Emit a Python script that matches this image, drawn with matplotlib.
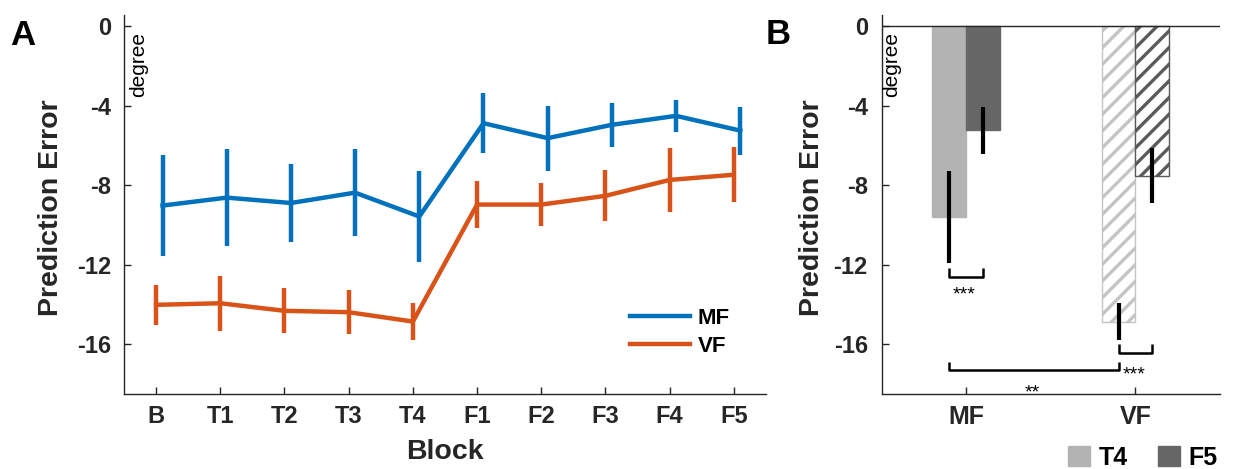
import matplotlib
matplotlib.use("Agg")
import matplotlib.pyplot as plt
import numpy as np

plt.rcParams['font.family'] = ['Liberation Sans', 'DejaVu Sans']
plt.rcParams['hatch.linewidth'] = 2.4

# panel A data
blocks = ["B", "T1", "T2", "T3", "T4", "F1", "F2", "F3", "F4", "F5"]
mf_mean = [-9.03, -8.63, -8.90, -8.38, -9.58, -4.89, -5.64, -4.97, -4.52, -5.26]
mf_err = [2.55, 2.43, 1.95, 2.20, 2.30, 1.52, 1.63, 1.11, 0.82, 1.21]
vf_mean = [-14.02, -13.94, -14.32, -14.39, -14.86, -8.98, -8.98, -8.54, -7.74, -7.48]
vf_err = [1.00, 1.39, 1.14, 1.11, 0.92, 1.19, 1.09, 1.28, 1.59, 1.38]

# panel B data (T4 and F5 blocks)
groups = ["MF", "VF"]
t4_mean = [-9.60, -14.87]
t4_err = [2.30, 0.92]
f5_mean = [-5.25, -7.52]
f5_err = [1.20, 1.37]

blue = "#0072BD"
orange = "#D95319"
axcol = "#262626"

fig = plt.figure(figsize=(12.34, 4.69), dpi=100)
axA = fig.add_axes([0.1005, 0.160, 0.5202, 0.808])
axB = fig.add_axes([0.7145, 0.160, 0.2742, 0.808])


def style(ax):
    for s in ["top", "right"]:
        ax.spines[s].set_visible(False)
    for s in ["left", "bottom"]:
        ax.spines[s].set_color(axcol)
        ax.spines[s].set_linewidth(1.0)
    ax.tick_params(direction="in", length=5, width=1, color=axcol,
                   labelcolor=axcol, labelsize=17)
    ax.tick_params(axis="y", pad=9)
    ax.tick_params(axis="x", pad=8)
    ax.set_ylim(-18.5, 0.55)
    ax.set_yticks([0, -4, -8, -12, -16])
    ax.set_yticklabels(["0", "-4", "-8", "-12", "-16"], fontweight="bold")


# ---- panel A
x = np.arange(1, len(blocks) + 1)
axA.errorbar(x + 0.1, mf_mean, yerr=mf_err, color=blue, lw=3.2, elinewidth=3.2,
             capsize=0, label="MF")
axA.errorbar(x, vf_mean, yerr=vf_err, color=orange, lw=3.2, elinewidth=3.2,
             capsize=0, label="VF")
axA.set_xlim(0.5, 10.5)
axA.set_xticks(x)
axA.set_xticklabels(blocks, fontweight="bold")
style(axA)
axA.set_xlabel("Block", fontsize=20.5, fontweight="bold", color=axcol, va="center")
axA.xaxis.set_label_coords(0.5, -0.153)
axA.set_ylabel("Prediction Error", fontsize=20.5, fontweight="bold", color=axcol, va="center")
axA.yaxis.set_label_coords(-0.114, 0.492)
axA.text(0.023, 0.956, "degree", transform=axA.transAxes, rotation=90,
         ha="center", va="top", fontsize=15)
h, l = axA.get_legend_handles_labels()
axA.legend([hh[0] for hh in h], l, frameon=False, loc="center left",
           bbox_to_anchor=(0.788, 0.162), borderaxespad=0, borderpad=0,
           handlelength=2.7, handletextpad=0.35, labelspacing=0.3,
           prop={"size": 16, "weight": "bold"})

# ---- panel B
xb = np.arange(1, len(groups) + 1)
light = "#b3b3b3"
dark = "#666666"
axB.bar(xb[0] - 0.1, t4_mean[0], 0.2, color=light, edgecolor=light, label="T4")
axB.bar(xb[0] + 0.1, f5_mean[0], 0.2, color=dark, edgecolor=dark, label="F5")
axB.bar(xb[1] - 0.1, t4_mean[1], 0.2, color="white", edgecolor="#c4c4c4", hatch="//", lw=1)
axB.bar(xb[1] + 0.1, f5_mean[1], 0.2, color="white", edgecolor="#5a5a5a", hatch="//", lw=1)
axB.errorbar(xb - 0.1, t4_mean, yerr=t4_err, fmt="none", ecolor="black", elinewidth=3, capsize=0)
axB.errorbar(xb + 0.1, f5_mean, yerr=f5_err, fmt="none", ecolor="black", elinewidth=3, capsize=0)
axB.axhline(0, color=axcol, lw=1)
axB.set_xlim(0.5, 2.5)
axB.set_xticks(xb)
axB.set_xticklabels(groups, fontweight="bold")
style(axB)
axB.tick_params(axis="x", labelsize=18)
axB.tick_params(axis="y", pad=10)
axB.set_ylabel("Prediction Error", fontsize=20.5, fontweight="bold", color=axcol, va="center")
axB.yaxis.set_label_coords(-0.206, 0.492)
axB.text(0.03, 0.956, "degree", transform=axB.transAxes, rotation=90,
         ha="center", va="top", fontsize=15)

# significance brackets
bk = dict(color="black", lw=1.8, solid_capstyle="butt")
axB.plot([0.9, 0.9, 1.1, 1.1], [-12.15, -12.6, -12.6, -12.15], **bk)
axB.plot([1.9, 1.9, 2.1, 2.1], [-16.0, -16.43, -16.43, -16.0], **bk)
axB.plot([0.9, 0.9, 1.9, 1.9], [-16.9, -17.3, -17.3, -16.9], **bk)
axB.text(0.99, -13.75, "***", ha="center", va="baseline", fontsize=14)
axB.text(1.99, -17.75, "***", ha="center", va="baseline", fontsize=14)
axB.text(1.39, -18.7, "**", ha="center", va="baseline", fontsize=14, clip_on=False)

hb, lb = axB.get_legend_handles_labels()
fig.legend(hb, lb, frameon=False, loc="center left", ncol=2,
           bbox_to_anchor=(1068 / 1234, 0.024), borderaxespad=0, borderpad=0,
           handlelength=0.88, handleheight=0.8, handletextpad=0.35,
           columnspacing=1.2, prop={"size": 18, "weight": "bold"})

fig.text(10 / 1234, 1 - 45 / 469, "A", fontsize=25, fontweight="bold", va="baseline")
fig.text(766 / 1234, 1 - 44 / 469, "B", fontsize=25, fontweight="bold", va="baseline")

fig.savefig("out.png", dpi=100)
